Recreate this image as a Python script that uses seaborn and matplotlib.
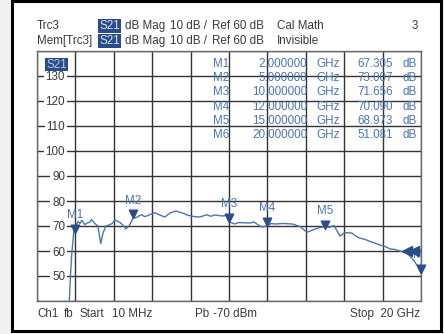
import numpy as np, pandas as pd
import seaborn as sns
import matplotlib.pyplot as plt
import matplotlib.transforms as mtransforms
from matplotlib.patches import Rectangle
from matplotlib.path import Path

# trace (GHz, dB)
freq_ghz = [0.01, 1.2, 1.6, 1.68, 1.75, 1.82, 1.93, 2.03, 2.15, 2.24, 2.35, 2.5, 2.62,
            2.76, 2.85, 3.02, 3.18, 3.33, 3.44, 3.59, 3.8, 3.95, 4.06, 4.32, 4.5, 4.64,
            4.84, 5.0, 5.21, 5.35, 5.47, 5.6, 5.73, 5.89, 6.15, 6.4, 6.67, 6.93, 7.24,
            7.4, 7.55, 7.86, 8.05, 8.23, 8.49, 8.85, 9.05, 9.27, 9.64, 9.85, 10.0, 10.3,
            10.5, 10.7, 11.1, 11.3, 11.46, 11.7, 12.0, 12.2, 12.4, 12.8, 13.3, 13.7,
            14.06, 14.5, 14.75, 15.0, 15.25, 15.47, 15.78, 16.04, 16.4, 16.6, 16.8,
            17.1, 17.34, 17.6, 17.86, 18.1, 18.4, 18.65, 18.9, 19.1, 19.3, 19.6, 19.8, 20.0]
trace_db = [20, 25, 30, 38, 50, 59, 68, 70, 71.8, 71, 72.3, 70.5, 71.2,
            71.5, 72.6, 71, 70, 63, 67, 70, 70.5, 71.2, 72.4, 71.5, 70.2, 68.8,
            70.5, 73, 73.5, 74.2, 74.5, 73.8, 74, 74.6, 75.3, 74.4, 73.6, 75.2, 76,
            75.6, 75.3, 74.3, 74.0, 73.7, 73.6, 74.5, 73.9, 74.4, 74, 74.2, 71.7, 70.8,
            71.4, 71.3, 71.2, 71.6, 70.8, 69.6, 70.1, 71.0, 70.8, 71, 70.8, 69.8,
            67.5, 68.8, 69.4, 69.8, 69.5, 70.2, 66, 67.3, 67.2, 66.0, 65.2,
            64.6, 63.8, 63.2, 62.4, 61.9, 60.8, 60.6, 60.0, 59.6, 59, 56.5, 54.2, 51]

marker_names = ["M1", "M2", "M3", "M4", "M5", "M6"]
marker_ghz = [2.0, 5.0, 10.0, 12.0, 15.0, 20.0]
marker_db = [67.305, 73.007, 71.656, 70.090, 68.973, 51.081]
mem_arrow_ghz = [19.27, 19.64]
mem_arrow_db = [60, 60]
y_labels = [50, 60, 70, 80, 90, 100, 110, 120, 130]

W, H = 444, 334
TXT = "#3a3a3a"
BLUE = "#4a76b2"
DARK = "#2b4c88"

sns.set_style("white")
plt.rcParams["font.family"] = ["Liberation Sans", "DejaVu Sans"]
FS = 8.4

fig = plt.figure(figsize=(W / 100, H / 100), dpi=100, facecolor="#f1f1f1")
fig.patches.append(Rectangle((11.5 / W, 1 - 331 / H), 429.5 / W, 330 / H,
                             transform=fig.transFigure, facecolor="white",
                             edgecolor="black", linewidth=2.2, zorder=-5))

def ftext(x, y, s, **kw):
    # y is the baseline in image pixels
    kw.setdefault("color", TXT)
    kw.setdefault("fontsize", FS)
    kw.setdefault("va", "baseline")
    return fig.text(x / W, 1 - y / H, s, **kw)

ax = fig.add_axes([37 / W, 1 - 301 / H, 384 / W, 250 / H])
ax.set_zorder(2)
df = pd.DataFrame({"f": freq_ghz, "db": trace_db})
sns.lineplot(data=df, x="f", y="db", ax=ax, color=BLUE, linewidth=1.0)

ax.set_xlim(0.01, 20)
ax.set_ylim(40, 140)
ax.set_xticks(np.linspace(0.01, 20, 11))
ax.set_yticks(np.arange(40, 141, 10))
ax.tick_params(length=0, labelbottom=False, labelleft=False)
ax.grid(True, color="#333333", linewidth=1.0)
ax.set_xlabel("")
ax.set_ylabel("")
for sp in ax.spines.values():
    sp.set_color("#6a6a6a")
    sp.set_linewidth(1.0)

# y labels sitting on the gridlines
ylab_tf = mtransforms.blended_transform_factory(ax.transAxes, ax.transData)
for v in y_labels:
    ax.text((65 - 37) / 384, v, str(v), transform=ylab_tf, fontsize=FS, color=TXT,
            ha="right", va="center_baseline",
            bbox=dict(facecolor="white", edgecolor="none", pad=1.2))

# markers: triangles with the tip on the trace
tri = Path([(-0.5, 1.0), (0.5, 1.0), (0.0, 0.0), (-0.5, 1.0)],
           [Path.MOVETO, Path.LINETO, Path.LINETO, Path.CLOSEPOLY])
ax.plot(marker_ghz, marker_db, linestyle="none", marker=tri, markersize=12,
        color=DARK, clip_on=False, zorder=5)
ax.plot(mem_arrow_ghz, mem_arrow_db, linestyle="none", marker="<", markersize=7,
        color=DARK, zorder=5)
for n, fx, fy in zip(marker_names, marker_ghz, marker_db):
    ax.annotate(n, (fx, fy), xytext=(0, 14), textcoords="offset points",
                ha="center", va="center_baseline", fontsize=FS, color=BLUE,
                annotation_clip=False, clip_on=True)

# marker table
rows_y = [66.8, 81.1, 95.3, 109.6, 123.9, 138.3]
for n, fx, fy, y in zip(marker_names, marker_ghz, marker_db, rows_y):
    ftext(229, y, n, ha="right", color=BLUE, zorder=3)
    ftext(307, y, "%.6f" % fx, ha="right", color=BLUE, zorder=3)
    ftext(316, y, "GHz", color=BLUE, zorder=3)
    ftext(393, y, "%.3f" % fy, ha="right", color=BLUE, zorder=3)
    ftext(402, y, "dB", color=BLUE, zorder=3)

ftext(46, 67.5, "S21", color="#b8c8e6", zorder=3,
      bbox=dict(facecolor=DARK, edgecolor="none", pad=0.6))

# header
for y, lead, tail in [(28.8, "Trc3", "Cal Math"), (43.8, "Mem[Trc3]", "Invisible")]:
    ftext(37, y, lead)
    ftext(99, y, "S21", color="#d6e0f2",
          bbox=dict(facecolor=DARK, edgecolor="none", pad=0.7))
    ftext(125, y, "dB Mag")
    ftext(170, y, "10 dB /")
    ftext(212, y, "Ref 60 dB")
    ftext(277, y, tail)
ftext(418, 28.8, "3", ha="right")

# footer
ftext(37, 317.3, "Ch1")
ftext(64, 317.3, "fb")
ftext(80, 317.3, "Start")
ftext(112, 317.3, "10 MHz")
ftext(195, 317.3, "Pb")
ftext(213, 317.3, "-70 dBm")
ftext(420, 317.3, "Stop  20 GHz", ha="right")

fig.savefig("out.png", dpi=100, facecolor=fig.get_facecolor())
